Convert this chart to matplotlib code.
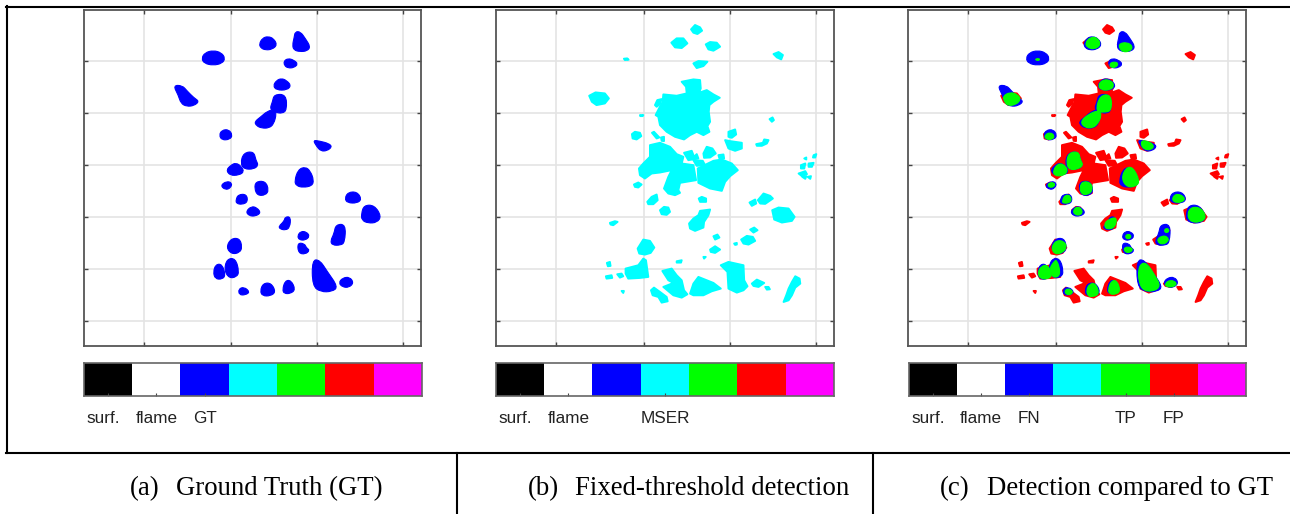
import matplotlib
matplotlib.use("Agg")
import matplotlib.pyplot as plt
from matplotlib.colors import ListedColormap
from matplotlib.lines import Line2D
from matplotlib.patches import PathPatch
from matplotlib.path import Path
from matplotlib.transforms import ScaledTranslation
import numpy as np

W, H = 1290, 514

# outlines, in the pixel grid of a 3x crop of each panel
gt_blobs = [
    [(605,175),(615,158),(640,151),(665,158),(676,175),(667,190),(640,196),(613,190)],
    [(778,132),(788,114),(805,109),(822,116),(832,135),(817,148),(797,150),(783,144)],
    [(886,95),(902,95),(917,116),(932,140),(922,153),(900,155),(882,150),(878,135),(883,113)],
    [(852,183),(865,175),(882,180),(895,192),(882,203),(865,204),(854,197)],
    [(520,256),(547,256),(562,273),(582,293),(598,304),(582,317),(560,319),(543,310),(535,285)],
    [(820,257),(830,241),(845,235),(860,241),(874,256),(862,270),(830,270)],
    [(823,283),(859,283),(861,330),(847,340),(828,337),(810,327),(818,305)],
    [(764,365),(783,350),(803,333),(824,328),(830,340),(822,372),(807,384),(785,384),(770,377)],
    [(658,405),(666,390),(687,388),(698,405),(690,418),(666,420)],
    [(940,420),(960,423),(987,430),(997,440),(982,452),(963,453),(950,438)],
    [(722,490),(731,458),(762,454),(768,480),(776,495),(762,507),(733,507)],
    [(679,510),(693,495),(708,488),(724,498),(733,515),(717,525),(691,526)],
    [(884,543),(895,508),(917,500),(932,513),(942,540),(937,557),(910,562),(890,557)],
    [(662,556),(680,543),(697,548),(692,564),(676,569)],
    [(764,565),(768,544),(797,543),(807,570),(797,585),(773,586)],
    [(708,600),(715,583),(740,582),(744,605),(727,613),(710,610)],
    [(738,634),(755,618),(772,623),(783,638),(767,648),(748,647)],
    [(1035,595),(1045,576),(1072,575),(1086,597),(1072,609),(1043,608)],
    [(1085,640),(1093,615),(1124,615),(1145,648),(1132,667),(1105,669),(1086,660)],
    [(837,678),(853,663),(856,650),(873,650),(870,682),(857,690),(840,686)],
    [(893,707),(903,693),(920,695),(930,708),(917,720),(898,719)],
    [(1008,673),(1038,672),(1035,727),(1022,735),(998,735),(992,722),(1003,700)],
    [(893,728),(914,730),(920,743),(930,750),(917,762),(896,759)],
    [(679,742),(693,715),(719,714),(727,740),(720,757),(696,762)],
    [(673,810),(681,776),(707,774),(718,815),(710,830),(688,834)],
    [(640,815),(648,792),(667,792),(677,825),(667,837),(646,836)],
    [(937,779),(960,779),(982,813),(1015,860),(997,874),(963,875),(938,857)],
    [(1017,848),(1028,833),(1050,830),(1062,848),(1047,862),(1028,860)],
    [(716,866),(733,860),(750,875),(737,884),(718,884)],
    [(781,872),(790,849),(814,848),(828,875),(812,887),(788,887)],
    [(848,868),(856,841),(874,840),(887,868),(872,880),(853,880)],
]

det_blobs = [
    [(633,88),(645,75),(660,82),(666,92),(652,102),(640,98)],
    [(574,128),(590,115),(610,115),(622,130),(605,144),(585,142)],
    [(677,133),(690,126),(710,128),(720,140),(700,152),(685,148)],
    [(880,162),(895,156),(908,165),(903,178),(890,172)],
    [(640,190),(655,183),(682,185),(670,198),(650,204)],
    [(432,176),(442,175),(446,179),(435,180)],
    [(328,287),(347,277),(375,280),(387,295),(375,310),(350,315),(336,305)],
    [(605,245),(640,238),(660,240),(662,265),(657,278),(680,270),(700,283),(719,293),(700,305),
     (688,315),(686,335),(690,365),(682,378),(688,395),(670,405),(650,395),(630,405),(612,418),
     (585,410),(560,395),(540,375),(535,350),(527,345),(537,325),(548,305),(550,283),(590,287),
     (620,280),(618,260)],
    [(525,315),(532,300),(545,297),(540,312),(530,320)],
    [(480,345),(490,345),(488,348),(481,348)],
    [(456,402),(465,395),(480,398),(484,408),(470,418),(458,415)],
    [(516,398),(522,395),(538,412),(530,415)],
    [(543,412),(552,410),(552,423),(545,422)],
    [(745,395),(765,388),(768,403),(755,413),(745,410)],
    [(735,420),(750,423),(785,428),(785,445),(765,452),(745,445)],
    [(828,432),(848,428),(852,418),(865,420),(860,430),(845,437),(830,437)],
    [(868,357),(877,352),(881,360),(875,365)],
    [(510,435),(540,428),(570,440),(590,462),(610,470),(605,490),(640,495),(648,540),(600,548),
     (595,570),(600,578),(585,585),(565,580),(552,565),(565,530),(575,510),(540,517),(515,520),
     (495,535),(480,525),(477,505),(490,490),(510,470)],
    [(612,458),(635,452),(642,470),(650,462),(655,475),(625,480)],
    [(640,480),(668,482),(675,495),(650,497)],
    [(653,505),(700,482),(725,478),(755,490),(773,510),(750,528),(735,545),(725,572),(690,565),(655,548)],
    [(670,460),(680,440),(697,445),(707,460),(690,472),(672,473)],
    [(715,465),(730,463),(732,475),(718,475)],
    [(1000,465),(1008,462),(1005,472),(998,472)],
    [(972,475),(978,472),(978,478)],
    [(962,495),(975,490),(972,505),(962,505)],
    [(985,490),(1000,488),(995,500),(985,500)],
    [(955,520),(975,513),(980,522),(965,528)],
    [(966,530),(978,528),(975,536)],
    [(982,530),(992,528),(990,536)],
    [(462,553),(475,547),(485,553),(475,562),(465,560)],
    [(502,605),(515,590),(530,583),(533,600),(520,612),(505,612)],
    [(540,630),(552,620),(565,622),(570,635),(560,644),(545,642)],
    [(656,595),(665,590),(678,595),(678,605),(660,605)],
    [(833,600),(850,580),(870,587),(878,595),(855,611),(840,610)],
    [(808,607),(825,598),(828,610),(815,617)],
    [(876,630),(895,622),(925,625),(943,650),(935,662),(905,667),(882,658)],
    [(627,670),(640,655),(655,645),(660,632),(690,628),(685,645),(672,665),(670,682),(645,692),(630,685)],
    [(390,668),(405,663),(413,665),(400,675),(392,673)],
    [(700,708),(712,703),(718,712),(705,718)],
    [(810,688),(822,682),(832,690),(820,697)],
    [(783,718),(800,707),(818,710),(825,722),(805,733),(790,730)],
    [(762,730),(770,728),(770,733),(765,734)],
    [(690,748),(705,738),(720,748),(705,758),(692,755)],
    [(473,745),(490,718),(510,722),(523,742),(512,758),(495,763),(478,760)],
    [(590,783),(605,780),(603,787),(590,787)],
    [(381,788),(390,785),(392,797),(384,798)],
    [(437,805),(475,795),(490,775),(498,780),(505,830),(480,833),(445,835),(437,820)],
    [(378,828),(395,825),(397,833),(380,835)],
    [(412,822),(425,820),(430,828),(420,832)],
    [(547,812),(575,805),(590,825),(605,840),(612,870),(622,882),(605,892),(580,885),(550,860),(580,848),(565,840)],
    [(513,870),(522,862),(540,875),(560,890),(563,903),(545,907),(535,890),(518,885)],
    [(630,880),(640,850),(655,830),(680,840),(700,848),(722,865),(695,873),(670,885),(640,885)],
    [(722,795),(745,785),(790,795),(792,840),(802,858),(790,870),(770,877),(745,865),(742,815)],
    [(815,850),(830,838),(852,848),(835,860),(820,857)],
    [(855,860),(865,860),(869,867),(860,868)],
    [(910,905),(918,885),(925,865),(935,845),(945,828),(958,835),(960,850),(945,862),(935,885),(925,900)],
    [(425,872),(432,872),(430,878)],
    [(670,770),(677,770),(672,775)],
]

tp_blobs = [
    [(585,128),(600,111),(622,113),(631,135),(612,148),(590,142)],
    [(683,132),(710,126),(728,140),(717,155),(693,155)],
    [(658,190),(672,185),(684,190),(677,202),(660,202)],
    [(435,177),(447,175),(448,181),(438,181)],
    [(338,288),(360,276),(382,283),(392,298),(377,314),(353,317),(343,305)],
    [(623,255),(638,238),(662,241),(672,258),(657,270),(633,270)],
    [(628,286),(662,283),(664,332),(640,337),(616,334)],
    [(570,365),(593,343),(625,330),(634,345),(622,372),(605,384),(583,382)],
    [(463,405),(480,396),(494,408),(484,419),(466,417)],
    [(750,425),(765,420),(792,435),(782,450),(758,447)],
    [(488,510),(506,488),(527,498),(532,515),(517,527),(493,527)],
    [(528,490),(535,458),(565,454),(570,480),(579,495),(562,507),(538,509)],
    [(693,535),(706,503),(727,500),(747,540),(740,557),(710,562)],
    [(470,555),(483,545),(497,553),(483,564)],
    [(568,560),(578,543),(602,548),(607,570),(592,584),(573,582)],
    [(516,600),(526,583),(542,588),(542,607),(518,610)],
    [(548,630),(562,618),(577,630),(572,645),(553,644)],
    [(843,598),(856,580),(880,588),(882,602),(858,609)],
    [(890,640),(903,620),(932,623),(948,652),(927,667),(898,664)],
    [(641,672),(653,658),(680,650),(674,682),(648,688)],
    [(703,708),(715,700),(724,710),(712,718)],
    [(820,690),(830,683),(837,692),(827,699)],
    [(798,720),(815,706),(832,710),(834,724),(813,734)],
    [(698,747),(712,738),(730,748),(712,760)],
    [(483,742),(498,720),(522,723),(530,742),(514,759),(493,762)],
    [(478,805),(488,788),(500,776),(512,825),(488,834)],
    [(443,815),(453,798),(472,793),(487,825),(472,837),(448,834)],
    [(743,810),(753,788),(770,790),(792,823),(811,858),(787,874),(758,870),(746,847)],
    [(823,850),(840,838),(860,848),(850,860),(828,860)],
    [(521,875),(533,863),(550,875),(535,886)],
    [(588,870),(598,850),(617,850),(627,882),(605,890),(593,887)],
    [(653,868),(663,841),(680,841),(690,872),(677,882),(658,882)],
]

bar_colors = ["#000000", "#ffffff", "#0000ff", "#00ffff", "#00ff00", "#ff0000", "#ff00ff"]
x_grid = [180, 442, 700, 958]
y_grid = [154, 310, 465, 620, 776, 931]
bar_ticks_a = [0, 1, 2]
bar_labels_a = ["surf.", "flame", "GT"]
bar_ticks_b = [0, 1, 3]
bar_labels_b = ["surf.", "flame", "MSER"]
bar_ticks_c = [0, 1, 2, 4, 5]
bar_labels_c = ["surf.", "flame", "FN", "TP", "FP"]
captions = ["(a)", "(b)", "(c)"]
caption_texts = ["Ground Truth (GT)", "Fixed-threshold detection", "Detection compared to GT"]


def px_axes(fig, left, top, right, bottom):
    return fig.add_axes([left / W, 1 - bottom / H, (right - left) / W, (bottom - top) / H])


def panel(fig, left, right):
    ax = px_axes(fig, left, 10, right, 346)
    # limits are the crop pixels of the panel frame
    ax.set_xlim(0, 1012)
    ax.set_ylim(1007, 0)
    ax.set_xticks(x_grid)
    ax.set_yticks(y_grid)
    ax.set_xticklabels([])
    ax.set_yticklabels([])
    ax.tick_params(direction="in", length=3, width=1, color="#444444", top=True, right=True)
    ax.grid(True, color="#e4e4e4", lw=1.2)
    ax.set_axisbelow(True)
    for s in ax.spines.values():
        s.set_color("#555555")
        s.set_linewidth(1.3)
    return ax


def draw_rough(ax, blobs, color, dx):
    for blob in blobs:
        pts = np.array(blob)
        ax.fill(pts[:, 0] - dx, pts[:, 1] - 30, color=color, lw=1.4, joinstyle="round")


def draw_round(ax, blobs, color, dx):
    # outline points are used as curve controls so the blobs come out rounded
    for blob in blobs:
        pts = np.array(blob, dtype=float) - [dx, 30]
        mids = (pts + np.roll(pts, -1, axis=0)) / 2
        verts = [mids[-1]]
        codes = [Path.MOVETO]
        for p, m in zip(pts, mids):
            verts += [p, m]
            codes += [Path.CURVE3, Path.CURVE3]
        ax.add_patch(PathPatch(Path(verts, codes), facecolor=color, edgecolor=color, lw=0.8))


def color_bar(fig, left, right, ticks, labels):
    ax = px_axes(fig, left, 363, right, 396)
    ax.imshow(np.arange(7).reshape(1, 7), cmap=ListedColormap(bar_colors), aspect="auto",
              extent=(-0.5, 6.5, 0, 1))
    ax.set_yticks([])
    ax.set_xticks(ticks)
    ax.set_xticklabels(labels, family="Liberation Sans", fontsize=12.3, color="#222222")
    ax.tick_params(axis="x", direction="in", length=2.5, width=0.8, color="#444444", pad=10.5)
    # the first label sits left of its tick
    first = ax.get_xticklabels()[0]
    first.set_transform(first.get_transform() + ScaledTranslation(-5 / 100, 0, fig.dpi_scale_trans))
    for s in ax.spines.values():
        s.set_color("#666666")
        s.set_linewidth(1.2)


fig = plt.figure(figsize=(W / 100, H / 100), dpi=100)

ax_a = panel(fig, 84, 421)
draw_round(ax_a, gt_blobs, "#0000ff", 252)

ax_b = panel(fig, 496, 834)
draw_rough(ax_b, det_blobs, "#00ffff", 49)

ax_c = panel(fig, 908, 1246)
draw_rough(ax_c, det_blobs, "#ff0000", 49)
draw_round(ax_c, gt_blobs, "#0000ff", 252)
draw_round(ax_c, tp_blobs, "#00ff00", 54)

color_bar(fig, 84, 422, bar_ticks_a, bar_labels_a)
color_bar(fig, 496, 834, bar_ticks_b, bar_labels_b)
color_bar(fig, 909, 1246, bar_ticks_c, bar_labels_c)

# table rules around the panels
rules = [
    ([6, 1290], [7, 7]),
    ([7, 7], [6, 453]),
    ([6, 1290], [453, 453]),
    ([457, 457], [453, 514]),
    ([873, 873], [453, 514]),
]
for xs, ys in rules:
    fig.add_artist(Line2D([x / W for x in xs], [1 - y / H for y in ys], color="black", lw=1.5))

caption_x = [130, 528, 940]
text_x = [176, 575, 987]
for i in range(3):
    fig.text(caption_x[i] / W, 1 - 488.5 / H, captions[i], family="Liberation Serif",
             fontsize=19.3, va="center", color="black")
    fig.text(text_x[i] / W, 1 - 488.5 / H, caption_texts[i], family="Liberation Serif",
             fontsize=19.3, va="center", color="black")

fig.savefig("out.png", dpi=100)
